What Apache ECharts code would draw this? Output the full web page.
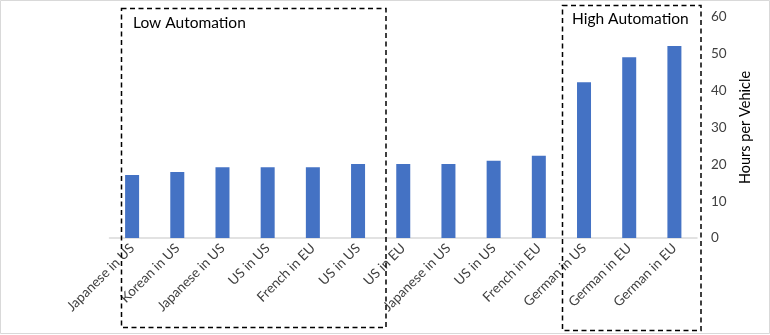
<!DOCTYPE html>
<html>
<head>
<meta charset="utf-8">
<script src="https://cdn.jsdelivr.net/npm/echarts@6/dist/echarts.min.js"></script>
<style>
  html, body { margin: 0; padding: 0; background: #fff; }
  #chart { width: 770px; height: 335px; }
</style>
</head>
<body>
<div id="chart"></div>
<script>
// Assembly labour by plant (manufacturer / region)
const categories = [
  'Japanese in US', 'Korean in US', 'Japanese in US', 'US in US', 'French in EU', 'US in US',
  'US in EU', 'Japanese in US', 'US in US', 'French in EU', 'German in US', 'German in EU', 'German in EU'
];
const hoursPerVehicle = [17.1, 17.9, 19.2, 19.2, 19.2, 20.1, 20.1, 20.1, 21.0, 22.3, 42.3, 49.1, 52.1];
const yTicks = { min: 0, max: 60, interval: 10 };
const groupTitles = ['Low Automation', 'High Automation'];

const font = 'Lato, "Open Sans", sans-serif';
const textColor = '#404040';

const chart = echarts.init(document.getElementById('chart'), null, { renderer: 'canvas' });

chart.setOption({
  animation: false,
  backgroundColor: '#ffffff',
  grid: { left: 109.5, right: 73, top: 17, bottom: 97 },
  xAxis: {
    type: 'category',
    data: categories,
    axisLine: { show: true, lineStyle: { color: '#d9d9d9', width: 1.5 } },
    axisTick: { show: false },
    axisLabel: {
      interval: 0,
      rotate: 45,
      margin: 8,
      color: textColor,
      fontSize: 13.5,
      fontFamily: font
    }
  },
  yAxis: {
    type: 'value',
    position: 'right',
    min: yTicks.min,
    max: yTicks.max,
    interval: yTicks.interval,
    splitLine: { show: false },
    axisLine: { show: false },
    axisTick: { show: false },
    axisLabel: { margin: 14, color: textColor, fontSize: 13.5, fontFamily: font },
    name: 'Hours per Vehicle',
    nameLocation: 'middle',
    nameRotate: 90,
    nameGap: 35,
    nameTextStyle: { color: '#000', fontSize: 14.5, fontFamily: font }
  },
  series: [{
    type: 'bar',
    data: hoursPerVehicle,
    barWidth: 14,
    itemStyle: { color: '#4472C4' }
  }],
  graphic: [
    {
      type: 'rect',
      shape: { x: 0.5, y: 0.5, width: 769, height: 333 },
      style: { fill: 'none', stroke: '#d9d9d9', lineWidth: 1 },
      silent: true
    },
    {
      type: 'rect',
      shape: { x: 121.5, y: 8.5, width: 264.5, height: 319 },
      style: { fill: 'none', stroke: '#000', lineWidth: 1.5, lineDash: [5, 3.5] },
      silent: true,
      z: 10
    },
    {
      type: 'rect',
      shape: { x: 562.5, y: 5.5, width: 138.5, height: 325 },
      style: { fill: 'none', stroke: '#000', lineWidth: 1.5, lineDash: [5, 3.5] },
      silent: true,
      z: 10
    },
    {
      type: 'text',
      left: 133,
      top: 15,
      style: { text: groupTitles[0], fill: '#000', fontSize: 15.5, fontFamily: font }
    },
    {
      type: 'text',
      left: 572,
      top: 11,
      style: { text: groupTitles[1], fill: '#000', fontSize: 15.5, fontFamily: font }
    }
  ]
});
</script>
</body>
</html>
